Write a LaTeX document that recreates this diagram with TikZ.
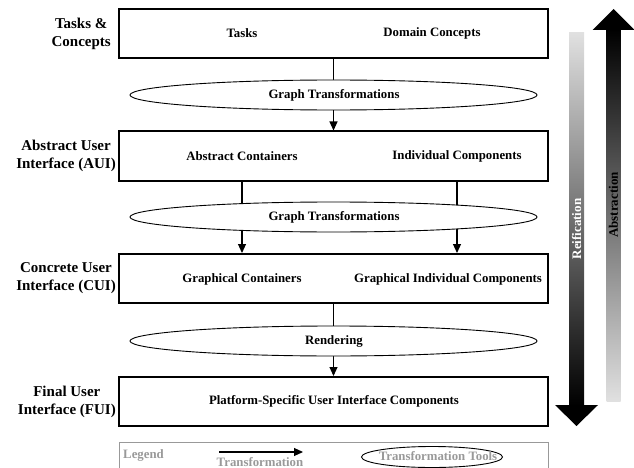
\documentclass[tikz,border=0pt]{standalone}
\usepackage{fontspec}
\setmainfont{Liberation Serif}
\usetikzlibrary{shapes.geometric,arrows.meta,backgrounds}
\definecolor{legendgray}{HTML}{999999}

\begin{document}
\begin{tikzpicture}[x=1pt,y=-1pt,
  layerbox/.style={draw,line width=2pt,minimum width=429pt,minimum height=49pt,inner sep=0pt},
  tool/.style={ellipse,draw,fill=white,line width=0.9pt,minimum width=407pt,minimum height=30pt,inner sep=0pt},
  boxtext/.style={font=\fontsize{12.8}{15}\selectfont\bfseries,inner sep=0pt},
  levellabel/.style={font=\fontsize{15}{17.5}\selectfont\bfseries,align=center,anchor=east,inner sep=0pt},
  flow/.style={line width=1.1pt},
  flowarrow/.style={line width=1.1pt,-{Triangle[length=9pt,width=8pt]}},
  bartext/.style={font=\fontsize{13}{15}\selectfont\bfseries,rotate=90,inner sep=0pt},
]
\clip (0,0) rectangle (634,468);

% level boxes
\node[layerbox] (tc)  at (333.5,33.5)  {};
\node[layerbox] (aui) at (333.5,156)   {};
\node[layerbox] (cui) at (333.5,278.5) {};
\node[layerbox] (fui) at (333.5,401.5) {};

% level names
\node[levellabel] (ltc)  at (111,34)  {Tasks \&\\Concepts};
\node[levellabel] (laui) at (116,156) {Abstract User\\Interface (AUI)};
\node[levellabel] (lcui) at (116,278) {Concrete User\\Interface (CUI)};
\node[levellabel] (lfui) at (116,402) {Final User\\Interface (FUI)};

% box contents
\node[boxtext] (tasks)  at (242,33)  {Tasks};
\node[boxtext] (domain) at (432,33)  {Domain Concepts};
\node[boxtext] (ac)     at (242,156) {Abstract Containers};
\node[boxtext] (ic)     at (457,156) {Individual Components};
\node[boxtext] (gc)     at (242,279) {Graphical Containers};
\node[boxtext] (gic)    at (448,279) {Graphical Individual Components};
\node[boxtext] (psc)    at (334,401) {Platform-Specific User Interface Components};

% transformation tools
\node[tool] (gt1) at (333.5,95)  {};
\node[tool] (gt2) at (333.5,217) {};
\node[tool] (ren) at (333.5,341) {};
\node[boxtext] (gt1t) at (334,95)  {Graph Transformations};
\node[boxtext] (gt2t) at (334,217) {Graph Transformations};
\node[boxtext] (rent) at (334,341) {Rendering};

% connectors (ellipses are filled, so the parts behind them stay hidden)
\begin{pgfonlayer}{background}
  \draw[flow] (tc.south) -- (gt1.center);
  \draw[flowarrow] (gt1.center) -- (aui.north);
  \draw[flow] (aui.south -| ac) -- (gt2.center -| ac);
  \draw[flowarrow] (gt2.center -| ac) -- (cui.north -| ac);
  \draw[flow] (aui.south -| ic) -- (gt2.center -| ic);
  \draw[flowarrow] (gt2.center -| ic) -- (cui.north -| ic);
  \draw[flow] (cui.south) -- (ren.center);
  \draw[flowarrow] (ren.center) -- (fui.north);
\end{pgfonlayer}

% reification arrow (downwards)
\shade[top color=black!12,bottom color=black] (569,33) rectangle (584,405.5);
\fill[black] (555,405) -- (598,405) -- (576.5,426) -- cycle;
\node[bartext,white] (reif) at (576.5,229) {Reification};

% abstraction arrow (upwards)
\shade[top color=black,bottom color=black!12] (606.5,29.5) rectangle (620.5,401);
\fill[black] (592.5,30) -- (634.5,30) -- (613.5,9) -- cycle;
\node[bartext,black] (abst) at (613.5,205) {Abstraction};

% legend
\draw[legendgray,line width=1pt] (119,442) rectangle (548,490);
\node[boxtext,legendgray] (leg) at (143.5,455) {Legend};
\coordinate (la) at (219,452);
\coordinate (lb) at (303,452);
\draw[flowarrow] (la) -- (lb);
\node[boxtext,legendgray] (legt) at (260,462.5) {Transformation};
\node[ellipse,draw,line width=0.9pt,minimum width=141pt,minimum height=21pt,inner sep=0pt] (legell) at (432,457) {};
\node[boxtext,legendgray] (legellt) at (438,456) {Transformation Tools};
\end{tikzpicture}
\end{document}
